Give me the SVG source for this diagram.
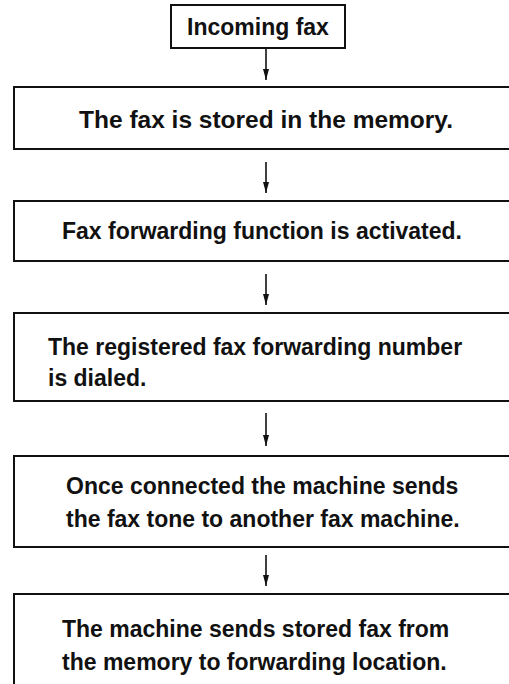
<svg xmlns="http://www.w3.org/2000/svg" width="509" height="684" viewBox="0 0 509 684">
<style>
.box{fill:#fff;stroke:#111;stroke-width:2}
.t{font-family:"Liberation Sans",Arial,sans-serif;font-weight:bold;font-size:23px;fill:#111}
.c{stroke:#111;stroke-width:1.6;fill:none}
.ah{fill:#111}
</style>
<rect width="509" height="684" fill="#fff"/>
<g id="connectors">
<line class="c" x1="266" y1="48" x2="266" y2="80"/>
<path class="ah" d="M263,69 L269,69 L266,80 Z"/>
<line class="c" x1="266" y1="162" x2="266" y2="193"/>
<path class="ah" d="M263,182 L269,182 L266,193 Z"/>
<line class="c" x1="266" y1="274" x2="266" y2="305"/>
<path class="ah" d="M263,294 L269,294 L266,305 Z"/>
<line class="c" x1="266" y1="413" x2="266" y2="446"/>
<path class="ah" d="M263,435 L269,435 L266,446 Z"/>
<line class="c" x1="266" y1="555" x2="266" y2="586"/>
<path class="ah" d="M263,575 L269,575 L266,586 Z"/>
</g>
<g id="n1">
<rect class="box" x="171" y="5" width="174" height="43"/>
<text class="t" x="258" y="35" text-anchor="middle">Incoming fax</text>
</g>
<g id="n2">
<rect class="box" x="14" y="87" width="510" height="62"/>
<text class="t" x="266" y="128" text-anchor="middle" style="font-size:24.5px">The fax is stored in the memory.</text>
</g>
<g id="n3">
<rect class="box" x="14" y="201" width="510" height="60"/>
<text class="t" x="262" y="239" text-anchor="middle">Fax forwarding function is activated.</text>
</g>
<g id="n4">
<rect class="box" x="14" y="313" width="510" height="88"/>
<text class="t" x="48" y="355">The registered fax forwarding number</text>
<text class="t" x="48" y="386">is dialed.</text>
</g>
<g id="n5">
<rect class="box" x="14" y="456" width="510" height="91"/>
<text class="t" x="66" y="494">Once connected the machine sends</text>
<text class="t" x="66" y="527">the fax tone to another fax machine.</text>
</g>
<g id="n6">
<rect class="box" x="14" y="594" width="510" height="100"/>
<text class="t" x="62" y="637">The machine sends stored fax from</text>
<text class="t" x="62" y="670">the memory to forwarding location.</text>
</g>
</svg>
